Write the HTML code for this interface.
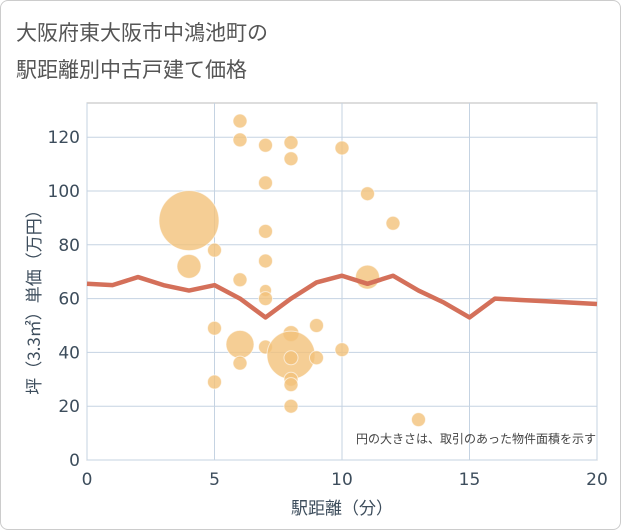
<!DOCTYPE html>
<html><head><meta charset="utf-8"><style>
body{margin:0;background:#fff;}
.card{position:absolute;left:0;top:0;width:619px;height:528px;border:1px solid #ccc;border-radius:8px;background:#fff;}
text{font-family:"DejaVu Sans","Noto Sans CJK JP",sans-serif;}
</style></head><body>
<div class="card"></div>
<svg id="c" width="621" height="530" style="position:absolute;left:0;top:0">
<text x="16" y="40" font-size="21" fill="#555" style="font-family:'Noto Sans CJK JP',sans-serif">大阪府東大阪市中鴻池町の</text>
<text x="16" y="77" font-size="21" fill="#555" style="font-family:'Noto Sans CJK JP',sans-serif">駅距離別中古戸建て価格</text>
<g id="grid"></g><g id="bub"></g><g id="ln"></g><g id="ax"></g>
<text x="596" y="443" font-size="12" fill="#444" text-anchor="end" style="font-family:'Noto Sans CJK JP',sans-serif">円の大きさは、取引のあった物件面積を示す</text>
<text x="342" y="514" font-size="17" fill="#3d4d5c" text-anchor="middle" style="font-family:'Noto Sans CJK JP',sans-serif">駅距離（分）</text>
<text transform="translate(40,298) rotate(-90)" font-size="17" fill="#3d4d5c" text-anchor="middle" style="font-family:'Noto Sans CJK JP',sans-serif">坪（3.3㎡）単価（万円）</text>
</svg>
<script>
const xTicks=[0,5,10,15,20];
const yTicks=[0,20,40,60,80,100,120];
const bx=[6,6,7,8,8,10,7,11,12,4,5,4,7,7,6,7,7,11,5,6,6,5,7,8,8,8,9,9,8,8,8,10,13];
const by=[126,119,117,118,112,116,103,99,88,89,78,72,85,74,67,63,60,68,49,43,36,29,42,47,39,38,50,38,30,28,20,41,15];
const br=[7,7,7,7,7,7,7,7,7,30,7,12,7,7,7,6,7,12,7,14,7,7,7,8,24,7,7,7,7,7,7,7,7];
const lx=[0,1,2,3,4,5,6,7,8,9,10,11,12,13,14,15,16,17,18,19,20];
const ly=[65.5,65,68,65,63,65,60,53,60,66,68.5,65.5,68.5,63,58.5,53,60,59.5,59,58.5,58];
const X=v=>87+v*25.5, Y=v=>460-v*2.69;
const NS='http://www.w3.org/2000/svg';
function mk(p,t,a){const e=document.createElementNS(NS,t);for(const k in a)e.setAttribute(k,a[k]);document.getElementById(p).appendChild(e);return e;}
let r=mk('grid','rect',{x:87,y:103,width:510,height:357,fill:'none',stroke:'#bbb'});


xTicks.forEach(v=>{let l=mk('grid','line',{x1:X(v),x2:X(v),y1:103,y2:460,stroke:'#c5d3e2'});


let t=mk('ax','text',{x:X(v),y:485,'font-size':17,fill:'#3d4d5c','text-anchor':'middle'});t.textContent=v;

});
yTicks.forEach(v=>{let l=mk('grid','line',{x1:87,x2:597,y1:Y(v),y2:Y(v),stroke:'#c5d3e2'});


let t=mk('ax','text',{x:80,y:Y(v)+6,'font-size':17,fill:'#3d4d5c','text-anchor':'end'});t.textContent=v;

});
bx.forEach((v,i)=>{let c=mk('bub','circle',{cx:X(v),cy:Y(by[i]),r:br[i],fill:'#f2c27a','fill-opacity':0.8,stroke:'#fff','stroke-opacity':0.6});

});
let p=mk('ln','polyline',{points:lx.map((v,i)=>X(v)+','+Y(ly[i])).join(' '),fill:'none',stroke:'#d4705a','stroke-width':4.5,'stroke-linejoin':'round'});


</script>
</body></html>
